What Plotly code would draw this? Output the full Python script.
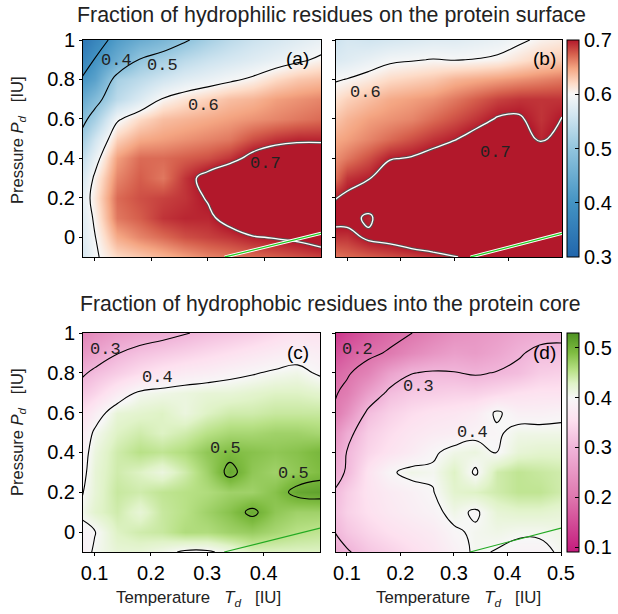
import plotly.graph_objects as go

# ---------------- data ----------------
T_grid = [0.075, 0.10, 0.14, 0.18, 0.22, 0.26, 0.30, 0.34, 0.38, 0.42, 0.46, 0.50]
P_grid = [-0.1, 0.0, 0.1, 0.2, 0.3, 0.4, 0.5, 0.6, 0.7, 0.8, 0.9, 1.0]

# (a) hydrophilic on surface, model 1 (rows: P from -0.1 to 1.0)
z_a = [
    [0.56, 0.595, 0.62, 0.63, 0.64, 0.65, 0.66, 0.665, 0.67, 0.675, 0.68, 0.685],
    [0.57, 0.598, 0.645, 0.66, 0.67, 0.68, 0.685, 0.69, 0.698, 0.702, 0.706, 0.715],
    [0.57, 0.605, 0.665, 0.675, 0.69, 0.695, 0.695, 0.71, 0.73, 0.74, 0.74, 0.74],
    [0.575, 0.612, 0.67, 0.68, 0.685, 0.69, 0.702, 0.73, 0.74, 0.74, 0.74, 0.74],
    [0.56, 0.605, 0.66, 0.675, 0.665, 0.69, 0.71, 0.73, 0.74, 0.74, 0.74, 0.74],
    [0.54, 0.585, 0.65, 0.67, 0.67, 0.675, 0.68, 0.69, 0.71, 0.72, 0.72, 0.72],
    [0.51, 0.56, 0.625, 0.645, 0.65, 0.655, 0.66, 0.665, 0.68, 0.69, 0.695, 0.695],
    [0.48, 0.52, 0.595, 0.62, 0.635, 0.64, 0.645, 0.65, 0.655, 0.66, 0.665, 0.67],
    [0.44, 0.48, 0.54, 0.57, 0.602, 0.615, 0.625, 0.635, 0.64, 0.65, 0.655, 0.66],
    [0.40, 0.43, 0.52, 0.54, 0.56, 0.575, 0.585, 0.595, 0.605, 0.62, 0.63, 0.635],
    [0.36, 0.402, 0.45, 0.502, 0.52, 0.54, 0.555, 0.565, 0.575, 0.585, 0.595, 0.605],
    [0.33, 0.37, 0.42, 0.45, 0.47, 0.495, 0.52, 0.54, 0.555, 0.565, 0.575, 0.585],
]
# (b) hydrophilic on surface, model 2
z_b = [
    [0.665, 0.67, 0.675, 0.68, 0.685, 0.69, 0.698, 0.71, 0.72, 0.72, 0.72, 0.72],
    [0.69, 0.69, 0.705, 0.71, 0.72, 0.73, 0.73, 0.73, 0.73, 0.73, 0.73, 0.73],
    [0.71, 0.71, 0.695, 0.72, 0.73, 0.73, 0.73, 0.73, 0.73, 0.73, 0.73, 0.73],
    [0.698, 0.705, 0.72, 0.73, 0.73, 0.73, 0.73, 0.73, 0.73, 0.73, 0.73, 0.73],
    [0.665, 0.69, 0.698, 0.72, 0.73, 0.73, 0.73, 0.73, 0.73, 0.73, 0.73, 0.73],
    [0.655, 0.665, 0.68, 0.698, 0.702, 0.71, 0.72, 0.73, 0.73, 0.73, 0.73, 0.73],
    [0.645, 0.65, 0.66, 0.67, 0.68, 0.69, 0.698, 0.71, 0.72, 0.715, 0.695, 0.71],
    [0.63, 0.64, 0.65, 0.655, 0.66, 0.67, 0.68, 0.69, 0.702, 0.703, 0.69, 0.701],
    [0.615, 0.625, 0.635, 0.645, 0.65, 0.655, 0.665, 0.675, 0.685, 0.69, 0.69, 0.69],
    [0.597, 0.601, 0.61, 0.62, 0.625, 0.63, 0.64, 0.645, 0.65, 0.655, 0.66, 0.665],
    [0.57, 0.575, 0.585, 0.595, 0.598, 0.601, 0.599, 0.601, 0.605, 0.615, 0.625, 0.63],
    [0.555, 0.565, 0.56, 0.565, 0.57, 0.575, 0.575, 0.58, 0.585, 0.595, 0.605, 0.61],
]
# (c) hydrophobic in core, model 1
z_c = [
    [0.38, 0.405, 0.42, 0.42, 0.41, 0.395, 0.395, 0.41, 0.43, 0.43, 0.43, 0.43],
    [0.39, 0.398, 0.43, 0.44, 0.445, 0.46, 0.46, 0.47, 0.475, 0.465, 0.455, 0.45],
    [0.405, 0.425, 0.44, 0.42, 0.445, 0.455, 0.47, 0.485, 0.507, 0.48, 0.47, 0.47],
    [0.395, 0.42, 0.445, 0.44, 0.45, 0.455, 0.46, 0.47, 0.47, 0.485, 0.51, 0.515],
    [0.385, 0.42, 0.44, 0.43, 0.415, 0.44, 0.47, 0.51, 0.48, 0.47, 0.48, 0.49],
    [0.38, 0.415, 0.44, 0.455, 0.45, 0.46, 0.48, 0.49, 0.485, 0.48, 0.485, 0.495],
    [0.37, 0.405, 0.43, 0.44, 0.43, 0.44, 0.455, 0.465, 0.465, 0.47, 0.47, 0.465],
    [0.35, 0.38, 0.42, 0.425, 0.43, 0.415, 0.43, 0.44, 0.44, 0.445, 0.445, 0.445],
    [0.32, 0.34, 0.375, 0.405, 0.41, 0.415, 0.42, 0.42, 0.425, 0.43, 0.43, 0.425],
    [0.29, 0.31, 0.33, 0.35, 0.365, 0.375, 0.38, 0.39, 0.397, 0.405, 0.41, 0.395],
    [0.25, 0.27, 0.298, 0.315, 0.325, 0.335, 0.345, 0.355, 0.365, 0.375, 0.385, 0.38],
    [0.22, 0.24, 0.26, 0.275, 0.285, 0.297, 0.31, 0.32, 0.33, 0.345, 0.36, 0.36],
]
# (d) hydrophobic in core, model 2
z_d = [
    [0.28, 0.295, 0.32, 0.335, 0.35, 0.365, 0.385, 0.405, 0.398, 0.39, 0.39, 0.405],
    [0.298, 0.32, 0.34, 0.355, 0.365, 0.375, 0.395, 0.405, 0.41, 0.405, 0.405, 0.41],
    [0.31, 0.335, 0.355, 0.37, 0.38, 0.39, 0.41, 0.395, 0.42, 0.425, 0.425, 0.42],
    [0.302, 0.33, 0.36, 0.375, 0.385, 0.398, 0.425, 0.43, 0.44, 0.45, 0.45, 0.44],
    [0.28, 0.305, 0.36, 0.395, 0.41, 0.405, 0.43, 0.395, 0.44, 0.45, 0.445, 0.44],
    [0.26, 0.302, 0.34, 0.36, 0.375, 0.395, 0.41, 0.415, 0.398, 0.42, 0.425, 0.425],
    [0.24, 0.285, 0.33, 0.35, 0.365, 0.375, 0.38, 0.39, 0.395, 0.41, 0.41, 0.41],
    [0.202, 0.24, 0.31, 0.335, 0.35, 0.36, 0.365, 0.375, 0.405, 0.385, 0.385, 0.39],
    [0.195, 0.21, 0.265, 0.31, 0.325, 0.33, 0.335, 0.335, 0.345, 0.355, 0.36, 0.36],
    [0.18, 0.195, 0.22, 0.27, 0.298, 0.305, 0.302, 0.295, 0.302, 0.31, 0.33, 0.335],
    [0.15, 0.17, 0.19, 0.205, 0.23, 0.25, 0.265, 0.26, 0.275, 0.295, 0.31, 0.31],
    [0.12, 0.14, 0.165, 0.185, 0.199, 0.22, 0.24, 0.25, 0.26, 0.275, 0.285, 0.29],
]

line_T = [0.33, 0.50]
line_P = [-0.10, 0.02]

top_ticks = [0.3, 0.4, 0.5, 0.6, 0.7]
bot_ticks = [0.1, 0.2, 0.3, 0.4, 0.5]
x_ticks_c = [0.1, 0.2, 0.3, 0.4]
x_ticks_d = [0.1, 0.2, 0.3, 0.4, 0.5]
y_ticks = [0, 0.2, 0.4, 0.6, 0.8, 1.0]

# contour label texts per panel with their pixel anchor (centre)
labels_a = [("0.4", 116, 60), ("0.5", 163, 65), ("0.6", 203, 106), ("0.7", 265, 163)]
labels_b = [("0.6", 365, 92), ("0.7", 495, 152)]
labels_c = [("0.3", 105, 349), ("0.4", 157, 377), ("0.5", 225, 448), ("0.5", 293, 473)]
labels_d = [("0.2", 357, 349), ("0.3", 418, 387), ("0.4", 472, 432)]

# ---------------- styling ----------------
W, H = 618, 614
FONT = "Liberation Sans, Arial, sans-serif"
MONO = "Liberation Mono, Courier New, monospace"
NB = "\u00a0"

rdbu = [[0.0, '#2166ac'], [0.25, '#4393c3'], [0.5, '#92c5de'], [0.65, '#d1e5f0'],
        [0.75, '#f7f7f7'], [0.8, '#fddbc7'], [0.87, '#f4a582'], [0.935, '#d6604d'],
        [1.0, '#b2182b']]
piyg = [[0.0, '#c51b7d'], [0.25, '#de77ae'], [0.48, '#f1b6da'], [0.6, '#fde0ef'],
        [0.7045, '#f7f7f7'], [0.77, '#e0f3c8'], [0.83, '#b8e186'], [0.91, '#7fbc41'],
        [1.0, '#4d9221']]

def px_x(p):
    return p / W

def px_y(p):
    return 1 - p / H

panels = {
    'a': dict(x=(83, 321), y=(40, 257)),
    'b': dict(x=(336, 562), y=(40, 257)),
    'c': dict(x=(83, 320), y=(333, 552)),
    'd': dict(x=(336, 561), y=(333, 552)),
}
axis_ids = {'a': ('x', 'y'), 'b': ('x2', 'y2'), 'c': ('x3', 'y3'), 'd': ('x4', 'y4')}

fig = go.Figure()

def add_heat(key, z, cs, zmin, zmax, show, cb=None):
    xa, ya = axis_ids[key]
    fig.add_trace(go.Heatmap(x=T_grid, y=P_grid, z=z, colorscale=cs, zmin=zmin, zmax=zmax,
                             zsmooth='best', showscale=show, colorbar=cb, xaxis=xa, yaxis=ya,
                             hoverinfo='skip'))

def add_contour(key, z, start, end, color='black', width=1.1):
    xa, ya = axis_ids[key]
    fig.add_trace(go.Contour(
        x=T_grid, y=P_grid, z=z, autocontour=False,
        contours=dict(coloring='none', start=start, end=end, size=0.1, showlabels=False),
        line=dict(color=color, width=width, smoothing=1.3),
        showscale=False, hoverinfo='skip', xaxis=xa, yaxis=ya))

def add_green(key, outlined):
    xa, ya = axis_ids[key]
    if outlined:
        fig.add_trace(go.Scatter(x=line_T, y=line_P, mode='lines',
                                 line=dict(color='white', width=3.2),
                                 xaxis=xa, yaxis=ya, hoverinfo='skip', showlegend=False))
        fig.add_trace(go.Scatter(x=line_T, y=line_P, mode='lines',
                                 line=dict(color='#22cc22', width=1.3),
                                 xaxis=xa, yaxis=ya, hoverinfo='skip', showlegend=False))
    else:
        fig.add_trace(go.Scatter(x=line_T, y=line_P, mode='lines',
                                 line=dict(color='#22aa22', width=1.1),
                                 xaxis=xa, yaxis=ya, hoverinfo='skip', showlegend=False))

def cbar(pan, ticks):
    y0, y1 = panels[pan]['y']
    return dict(x=px_x(567), xanchor='left', xpad=0, ypad=0,
                y=px_y(y0), yanchor='top', len=(y1 - y0) / H, lenmode='fraction',
                thickness=12, outlinewidth=1, outlinecolor='black',
                tickvals=ticks, tickformat='.1f', ticks='inside', ticklen=4,
                tickcolor='black', tickfont=dict(family=FONT, size=20, color='black'))

# top row
add_heat('a', z_a, rdbu, 0.3, 0.7, False)
add_contour('a', z_a, 0.4, 0.6)
add_contour('a', z_a, 0.7, 0.7, color='#555555', width=3.0)
add_contour('a', z_a, 0.7, 0.7, color='white', width=1.3)
add_green('a', True)

add_heat('b', z_b, rdbu, 0.3, 0.7, True, cbar('b', top_ticks))
add_contour('b', z_b, 0.6, 0.6)
add_contour('b', z_b, 0.7, 0.7, color='#555555', width=3.0)
add_contour('b', z_b, 0.7, 0.7, color='white', width=1.3)
add_green('b', True)

# bottom row
add_heat('c', z_c, piyg, 0.09, 0.53, False)
add_contour('c', z_c, 0.3, 0.5)
add_green('c', False)

add_heat('d', z_d, piyg, 0.09, 0.53, True, cbar('d', bot_ticks))
add_contour('d', z_d, 0.2, 0.4)
add_green('d', False)

layout = dict(width=W, height=H, margin=dict(l=0, r=0, t=0, b=0, autoexpand=False),
              paper_bgcolor='white', plot_bgcolor='white', showlegend=False,
              font=dict(family=FONT, size=20, color='black'))

for key, (xa, ya) in axis_ids.items():
    x0, x1 = panels[key]['x']
    y0, y1 = panels[key]['y']
    xname = 'xaxis' + xa[1:]
    yname = 'yaxis' + ya[1:]
    show_xl = key in ('c', 'd')
    show_yl = key in ('a', 'c')
    xt = x_ticks_d if key == 'd' else x_ticks_c
    layout[xname] = dict(domain=[px_x(x0), px_x(x1)], range=[0.0795, 0.5],
                         anchor=ya, tickvals=xt, ticktext=[f'{v:g}' for v in xt],
                         showticklabels=show_xl, ticks='outside', ticklen=3, tickcolor='black',
                         showline=True, mirror=True, linecolor='black', linewidth=1,
                         showgrid=False, zeroline=False,
                         tickfont=dict(family=FONT, size=20, color='black'))
    layout[yname] = dict(domain=[px_y(y1), px_y(y0)], range=[-0.1, 1.0],
                         anchor=xa, tickvals=y_ticks, ticktext=[f'{v:g}' for v in y_ticks],
                         showticklabels=show_yl, ticks='outside', ticklen=3, tickcolor='black',
                         showline=True, mirror=True, linecolor='black', linewidth=1,
                         showgrid=False, zeroline=False,
                         tickfont=dict(family=FONT, size=20, color='black'))

ann = []
ann.append(dict(text='Fraction of hydrophilic residues on the protein surface',
                x=px_x(331), y=px_y(15), xref='paper', yref='paper', showarrow=False,
                xanchor='center', yanchor='middle', font=dict(family=FONT, size=21.4, color='#222')))
ann.append(dict(text='Fraction of hydrophobic residues into the protein core',
                x=px_x(330), y=px_y(304), xref='paper', yref='paper', showarrow=False,
                xanchor='center', yanchor='middle', font=dict(family=FONT, size=21.2, color='#222')))
ytitle = 'Pressure <i>P</i><sub><i>d</i></sub>' + NB * 2 + ' [IU]'
xtitle = 'Temperature' + NB * 2 + ' <i>T</i><sub><i>d</i></sub>' + NB * 2 + ' [IU]'
for yc in (141, 433):
    ann.append(dict(text=ytitle, textangle=-90,
                    x=px_x(18), y=px_y(yc), xref='paper', yref='paper', showarrow=False,
                    xanchor='center', yanchor='middle', font=dict(family=FONT, size=16.5, color='#222')))
for xc in (198, 458):
    ann.append(dict(text=xtitle,
                    x=px_x(xc), y=px_y(598), xref='paper', yref='paper', showarrow=False,
                    xanchor='center', yanchor='middle', font=dict(family=FONT, size=16.8, color='#222')))
for lab, (xr, yt) in {'(a)': (311, 46), '(b)': (558, 46), '(c)': (311, 340), '(d)': (558, 340)}.items():
    ann.append(dict(text=lab, x=px_x(xr), y=px_y(yt), xref='paper', yref='paper', showarrow=False,
                    xanchor='right', yanchor='top', font=dict(family=FONT, size=19, color='black')))
for group in (labels_a, labels_b, labels_c, labels_d):
    for txt, cx, cy in group:
        ann.append(dict(text=txt, x=px_x(cx), y=px_y(cy), xref='paper', yref='paper',
                        showarrow=False, xanchor='center', yanchor='middle',
                        font=dict(family=MONO, size=17, color='#222')))
layout['annotations'] = ann

fig.update_layout(**layout)
fig.write_html("out.html")
